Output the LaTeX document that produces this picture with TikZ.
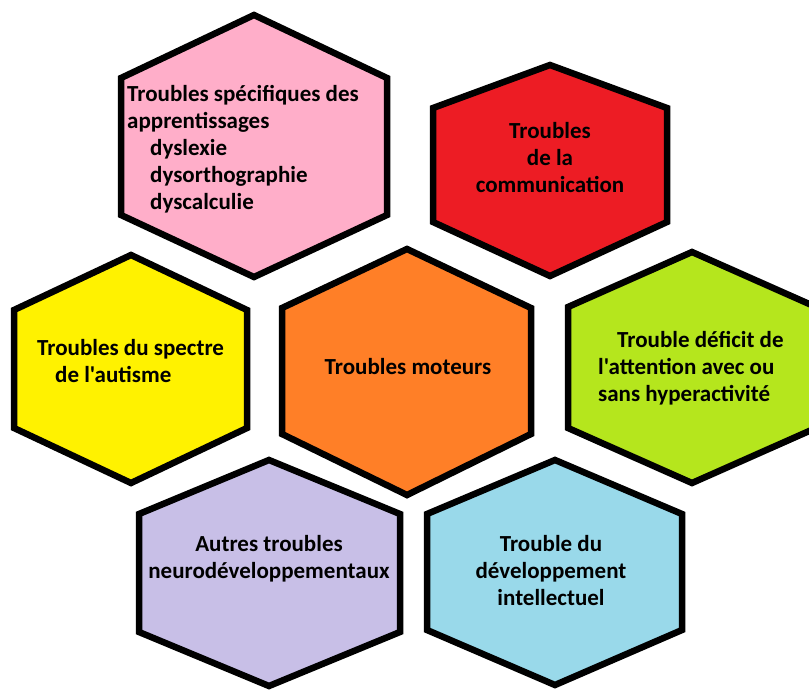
\documentclass[tikz,border=0pt]{standalone}
\usepackage{fontspec}
\setmainfont{Carlito}[Ligatures=TeXOff]
\definecolor{pinkhex}{HTML}{FFAEC9}
\definecolor{redhex}{HTML}{ED1C24}
\definecolor{yellowhex}{HTML}{FFF200}
\definecolor{orangehex}{HTML}{FF7F27}
\definecolor{limehex}{HTML}{B5E61D}
\definecolor{lilachex}{HTML}{C8BFE7}
\definecolor{bluehex}{HTML}{99D9EA}
\begin{document}
\begin{tikzpicture}[x=1pt,y=-1pt,
 hex/.style={line width=6.5pt,line join=miter},
 lbl/.style={font=\fontsize{23}{27}\selectfont\bfseries,inner sep=0pt}]
 \useasboundingbox (0,0) rectangle (809,689);
 % hexagons
 \draw[hex,fill=pinkhex] (254,15)--(387,78)--(387,215)--(254,277)--(121,215)--(121,78)--cycle;
 \draw[hex,fill=redhex] (550,65)--(667,108)--(667,222)--(550,276)--(433,222)--(433,108)--cycle;
 \draw[hex,fill=yellowhex] (131,255)--(247,310)--(247,428)--(131,483)--(14,428)--(14,310)--cycle;
 \draw[hex,fill=orangehex] (407,249)--(531,308)--(531,434)--(407,495)--(282,434)--(282,308)--cycle;
 \draw[hex,fill=limehex] (692,252)--(816,307)--(816,428)--(692,483)--(568,428)--(568,307)--cycle;
 \draw[hex,fill=lilachex] (269,460)--(400,514)--(400,632)--(269,686)--(139,632)--(139,514)--cycle;
 \draw[hex,fill=bluehex] (555,460)--(682,514)--(682,630)--(555,685)--(427,630)--(427,514)--cycle;
 % labels
 \node[lbl,align=left,anchor=west] (tsa) at (127,149) {Troubles spécifiques des\\apprentissages\\\hspace*{23pt}dyslexie\\\hspace*{23pt}dysorthographie\\\hspace*{23pt}dyscalculie};
 \node[lbl,align=center] (comm) at (550,158) {Troubles\\de la\\communication};
 \node[lbl,align=left,anchor=west] (tsa2) at (37,361) {Troubles du spectre\\\hspace*{18pt}de l'autisme};
 \node[lbl] (mot) at (408,367) {Troubles moteurs};
 \node[lbl,align=left,anchor=west] (tdah) at (598,368) {\hspace*{19pt}Trouble déficit de\\l'attention avec ou\\sans hyperactivité};
 \node[lbl,align=center] (autres) at (269,559) {Autres troubles\\neurodéveloppementaux};
 \node[lbl,align=center] (tdi) at (551,571) {Trouble du\\développement\\intellectuel};
\end{tikzpicture}
\end{document}
